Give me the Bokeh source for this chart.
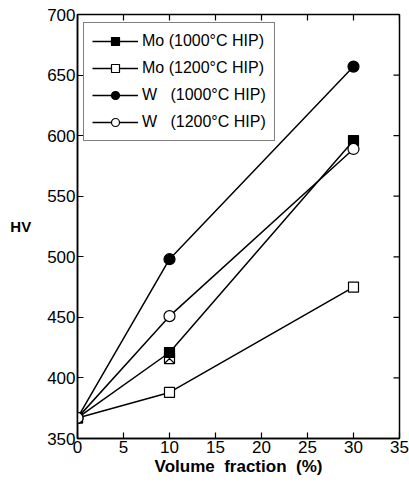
import math
from bokeh.plotting import figure
from bokeh.models import Range1d, Legend, LegendItem, FixedTicker
from bokeh.embed import file_html
from bokeh.resources import INLINE

# ---- data ----
vol = [0, 10, 30]
mo_1000 = [367, 421, 596]
mo_1200 = [367, 388, 475]
w_1000 = [367, 498, 657]
w_1200 = [367, 451, 589]
extra_x = [10]
extra_y = [416]
x_ticks = [0, 5, 10, 15, 20, 25, 30, 35]
y_ticks = [350, 400, 450, 500, 550, 600, 650, 700]
series_labels = [
    "Mo (1000\u00b0C HIP)",
    "Mo (1200\u00b0C HIP)",
    "W\u00a0\u00a0\u00a0(1000\u00b0C HIP)",
    "W\u00a0\u00a0\u00a0(1200\u00b0C HIP)",
]

FONT = "Liberation Sans"
X0, X1 = 0, 35
Y0, Y1 = 350, 700

p = figure(width=409, height=489,
           x_range=Range1d(X0, X1), y_range=Range1d(Y0, Y1),
           output_backend="svg", toolbar_location=None,
           min_border_left=77, min_border_right=10,
           min_border_top=14, min_border_bottom=51)
p.background_fill_color = "white"
p.border_fill_color = "white"
p.grid.visible = False
p.outline_line_color = "black"
p.outline_line_width = 1.5

for ax in (p.xaxis[0], p.yaxis[0]):
    ax.axis_line_color = "black"
    ax.axis_line_width = 1.5
    ax.major_tick_in = 6
    ax.major_tick_out = 0
    ax.major_tick_line_color = "black"
    ax.major_tick_line_width = 1.2
    ax.minor_tick_line_color = None
    ax.major_label_text_font = FONT
    ax.major_label_text_color = "black"
    ax.major_label_text_font_size = "17px"
    ax.major_label_standoff = 2
    ax.axis_label_text_font = FONT
    ax.axis_label_text_font_style = "bold"
    ax.axis_label_text_color = "black"

p.xaxis.ticker = FixedTicker(ticks=x_ticks)
p.yaxis.ticker = FixedTicker(ticks=y_ticks)
p.xaxis.axis_label = "Volume\u00a0 fraction\u00a0 (%)"
p.xaxis.axis_label_text_font_size = "17px"
p.xaxis.axis_label_standoff = 1
p.yaxis.axis_label = "HV"
p.yaxis.axis_label_text_font_size = "15px"
p.yaxis.axis_label_standoff = 13
p.yaxis.axis_label_orientation = "horizontal"

# mirrored inward ticks on the top and right edges
p.ray(x=x_ticks, y=[Y1] * len(x_ticks), length=6, length_units="screen",
      angle=-math.pi / 2, line_color="black", line_width=1.2)
p.ray(x=[X1] * len(y_ticks), y=y_ticks, length=6, length_units="screen",
      angle=math.pi, line_color="black", line_width=1.2)

items = []
specs = [
    (mo_1000, "square", "black", 10),
    (mo_1200, "square", "white", 10),
    (w_1000, "circle", "black", 11),
    (w_1200, "circle", "white", 11),
]
lines = []
for ys, mk, fc, sz in specs:
    lines.append(p.line(vol, ys, line_color="black", line_width=1.5))

# overlapping crossed square near (10, ~416)
p.scatter(extra_x, extra_y, marker="square_x", size=10, fill_color="white",
          line_color="black", line_width=1.2)

for (ys, mk, fc, sz), lr, lab in zip(specs, lines, series_labels):
    sr = p.scatter(vol, ys, marker=mk, size=sz, fill_color=fc,
                   line_color="black", line_width=1.2)
    items.append(LegendItem(label=lab, renderers=[lr, sr]))

legend = Legend(items=items, location=(6, 297))
legend.label_text_font = FONT
legend.label_text_font_size = "16px"
legend.label_text_color = "black"
legend.glyph_width = 46
legend.glyph_height = 20
legend.label_height = 20
legend.label_standoff = 4
legend.spacing = 7
legend.padding = 8
legend.margin = 0
legend.border_line_color = "black"
legend.border_line_width = 1.5
legend.background_fill_alpha = 1
p.add_layout(legend, "center")

open("out.html", "w").write(file_html(p, INLINE))
